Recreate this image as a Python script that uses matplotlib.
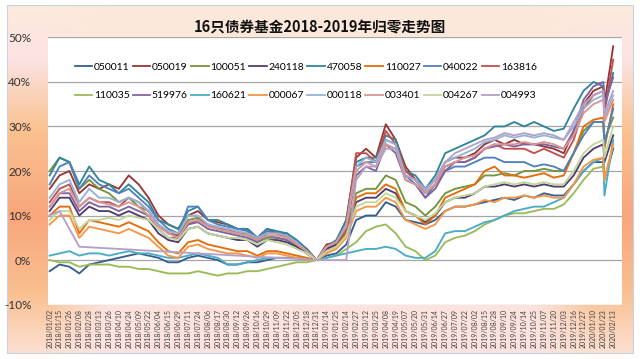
import numpy as np
import matplotlib
matplotlib.use('Agg')
import matplotlib.pyplot as plt
from matplotlib.colors import to_rgb
from matplotlib.lines import Line2D

plt.rcParams['font.family'] = ['Lato', 'DejaVu Sans']

title = "16只债券基金2018-2019年归零走势图"

tick_dates = [
    "2018/01/02", "2018/01/15", "2018/01/26", "2018/02/08", "2018/02/28", "2018/03/13",
    "2018/03/26", "2018/04/10", "2018/04/24", "2018/05/09", "2018/05/22", "2018/06/04",
    "2018/06/15", "2018/06/29", "2018/07/11", "2018/07/24", "2018/08/06", "2018/08/17",
    "2018/08/30", "2018/09/12", "2018/09/26", "2018/10/16", "2018/10/29", "2018/11/09",
    "2018/11/22", "2018/12/05", "2018/12/18", "2018/12/31", "2019/01/14", "2019/01/25",
    "2019/02/14", "2019/02/27", "2019/03/12", "2019/03/25", "2019/04/08", "2019/04/19",
    "2019/05/07", "2019/05/20", "2019/05/31", "2019/06/14", "2019/06/27", "2019/07/09",
    "2019/07/22", "2019/08/02", "2019/08/15", "2019/08/28", "2019/09/10", "2019/09/24",
    "2019/10/14", "2019/10/25", "2019/11/07", "2019/11/20", "2019/12/03", "2019/12/16",
    "2019/12/27", "2020/01/10", "2020/01/23", "2020/02/13",
]
# sampled dates: every tick date plus the first trading day after Spring Festival
sample_dates = tick_dates[:57] + ["2020/02/03", "2020/02/13"]
days_per_tick = 9

y_ticks = [-10, 0, 10, 20, 30, 40, 50]

codes = ["050011", "050019", "100051", "240118", "470058", "110027", "040022", "163816",
         "110035", "519976", "160621", "000067", "000118", "003401", "004267", "004993"]

s050011 = [-2.5, -1, -1.5, -3, -1, -0.5, 0, 0.5, 1, 1.5, 1, 0.5, -0.5, -0.5, 0.5, 1, 0.5, 0, -1, -1,
           -0.5, -0.5, 0, 0.5, 0.5, 0.5, 0, 0,
           1, 1.5, 3.5, 9, 10, 10, 13, 12, 9, 8.5, 8, 9, 11, 12, 12, 12.5, 13, 13.5, 14, 13.5, 14.5, 14,
           15, 14.5, 14.5, 17, 20, 22, 22,
           18, 25]
s050019 = [16, 19, 20, 15, 17, 16, 17, 16, 19, 17, 14, 10, 8, 7, 10, 11, 9, 8.5, 8, 7, 7, 5, 7, 6, 6, 4, 2.5, 0,
           3.5, 4, 9, 23, 25, 23, 30.5, 27, 21, 18, 16, 18, 22, 23, 23, 24, 26, 27, 26, 27, 26, 26,
           25.5, 25, 24, 29, 35, 38, 39,
           35, 48]
s100051 = [20, 23, 22, 16, 18, 16, 15, 13, 14, 12, 11, 8, 6, 5.5, 9, 9.5, 8, 7, 6.5, 6, 5.5, 4, 5, 5, 4.5, 3, 1.5, 0,
           2.5, 3.5, 6.5, 15, 16, 16, 19, 18, 13, 12, 10, 12, 15, 16, 16.5, 17, 19, 19, 19.5, 19, 20, 20,
           20.5, 20, 20, 24, 29, 31, 31,
           27, 32]
s240118 = [11, 14, 14, 10, 12, 11, 11, 10, 11, 10, 9, 6, 4.5, 4, 7, 7.5, 6, 5.5, 5, 4.5, 4.5, 3, 4.5, 4.5, 4, 3, 1.5, 0,
           2.5, 3.5, 6, 13, 14, 14, 16, 15, 11, 10, 8.5, 10, 13, 14, 14, 15, 16.5, 16.5, 17, 16.5, 17, 16.5,
           17, 16.5, 16.5, 19, 23, 25, 26,
           22, 28]
s470058 = [19, 23, 22, 17, 21, 18, 17, 15, 17, 15, 13, 9, 8, 7, 11, 12, 9, 9, 8, 7, 7, 5, 7, 6.5, 6, 4.5, 2.5, 0,
           3, 4.5, 9, 22, 23, 23, 28, 27, 20, 19, 16, 19, 24, 25, 26, 27, 28, 30, 30, 31, 30, 31,
           30, 29, 29.5, 34, 38, 40, 39,
           34, 42]
s110027 = [10, 12, 12, 6, 9, 8.5, 8, 7.5, 8.5, 7.5, 6.5, 4, 2, 1.5, 4, 4.5, 3.5, 3, 2.5, 2, 2, 1, 2, 2, 1.5, 1, 0.5, 0,
           2, 3, 6, 14, 15, 15, 17, 16, 11, 10, 8, 10, 14, 15, 16, 17, 20, 21, 19, 19, 18.5, 19,
           19.5, 18.5, 19, 24, 30, 31.5, 32,
           25, 35]
s040022 = [17, 21, 22, 16, 19, 17, 16, 15, 16, 14, 12, 9, 7, 6, 12, 12, 9, 8, 7.5, 7, 6.5, 5, 6.5, 6, 5.5, 4, 2, 0,
           3, 4, 8, 21, 22, 22, 27, 26, 19, 17, 14, 17, 20, 21, 21, 22, 23, 23, 22, 22, 22, 21,
           21.5, 21, 20, 24, 28, 31, 31,
           26, 34]
s163816 = [13, 16, 17, 12, 14, 13, 13, 12, 14, 13, 11, 8, 6, 5.5, 8, 9, 8, 7, 7, 6, 6, 4.5, 6, 6, 5, 4, 2, 0,
           3, 4, 8, 24, 24, 22, 29, 26, 20, 18, 15, 17, 21, 22, 22, 23, 25, 26, 25, 25, 25, 24,
           25, 24, 23, 27, 34, 37, 38,
           33, 45]
s110035 = [0, -0.5, -0.5, -1.5, -1, -1, -1, -1.5, -1.5, -2, -2, -2.5, -3, -3, -3, -2.5, -3, -3.5, -3, -3,
           -2.5, -2.5, -2, -1.5, -1, -0.5, -0.5, 0,
           0.5, 1, 2.5, 4, 6.5, 7.5, 8, 6, 3, 2, 0, 1, 4, 5, 5.5, 6.5, 8, 9, 10, 10.5, 10.5, 11,
           11.5, 11.5, 12.5, 15, 18, 20.5, 21,
           18, 26]
s519976 = [12, 15, 15, 11, 13, 12, 12, 11, 12, 11, 10, 7, 5, 5, 8, 8.5, 7, 6.5, 6, 5.5, 5, 4, 5.5, 5, 4.5, 3.5, 2, 0,
           3, 4, 7, 19, 21, 20, 26, 24, 18, 17, 14, 16, 20, 22, 22, 23, 25, 25.5, 26, 25.5, 26, 26,
           26, 25.5, 25, 29, 36, 39, 40,
           35, 41]
s160621 = [1, 1.5, 2, 1, 1.5, 1.5, 1, 1.5, 2, 1.5, 1.5, 1, 0.5, 0.5, 1, 1.5, 1, 0.5, -1, -1,
           -0.5, 0, 0.5, 0.5, 0.5, 0.5, 0, 0,
           0.5, 1, 1.5, 2, 2.5, 2.5, 3, 2.5, 1, 0.5, 0.5, 2, 6, 6.5, 6.5, 7.5, 8.5, 9, 10, 11, 11.5, 12,
           12, 13, 14, 17, 20, 22, 23,
           14.5, 27]
s000067 = [8, 10, 10, 5, 7.5, 7, 6.5, 6, 7, 6, 5, 3, 1, 0.5, 3, 3.5, 2.5, 2, 1.5, 1.5, 1, 0.5, 1.5, 1.5, 1, 0.5, 0, 0,
           1.5, 2.5, 5, 11, 12, 12, 14, 13, 9, 8, 7, 8, 11, 12, 12, 12.5, 13.5, 13, 14, 14, 14.5, 14,
           14.5, 14, 14, 17, 21, 22.5, 23,
           18, 26]
s000118 = [14, 17, 18, 13, 16, 14, 14, 13, 14, 13, 11, 8, 6.5, 6, 10, 10, 8, 7.5, 7, 6.5, 6, 5, 6, 6, 5.5, 4, 2, 0,
           3, 4, 8, 21, 23, 22, 27, 26, 19, 18, 15.5, 18, 22, 23, 24, 25, 26.5, 27, 28, 27.5, 28, 27.5,
           28, 27.5, 27, 30, 34, 36, 37,
           32, 37]
s003401 = [12, 15, 16, 12, 14, 13, 12.5, 12, 13, 12, 10, 7.5, 6, 5, 8.5, 9, 7.5, 7, 6.5, 6, 5.5, 4.5, 5.5, 5.5, 5, 3.5, 2, 0,
           3, 4, 7.5, 20, 22, 21, 26, 25, 18, 17, 15, 17, 21, 22, 23, 23.5, 25, 26, 26, 26, 26.5, 26,
           26.5, 26, 25, 28, 33, 35, 36,
           31, 36]
s004267 = [9, 11, 11, 7, 9, 9, 9.5, 9, 10, 9.5, 9, 7, 5, 4.5, 7, 7.5, 6, 5.5, 5, 5, 4.5, 3.5, 4.5, 4, 3.5, 2.5, 1.5, 0,
           2, 3, 5.5, 12, 13, 13, 15, 14, 11, 10, 9, 10.5, 13, 14, 14.5, 15, 16.5, 17, 17.5, 17, 17.5, 17,
           17.5, 17, 17, 20, 24, 26, 27,
           23, 30]
s004993 = [10, 11, 7, 3, None, None, None, None, None, None, None, None, None, None, None, None,
           None, None, None, None, None, None, None, None, None, None, None, 0,
           None, None, 0, 18, 21, 21, 25, 25, 19, 18, 16, 18, 22, 24, 25, 26, 27, 27.5, 28.5, 28, 28.5, 28,
           28.5, 28, 27, 31, 35, 37, 38,
           33, 38]

colors = ["#365F91", "#953735", "#77933C", "#4F3F6F", "#31859C", "#E46C0A", "#4F81BD", "#C0504D",
          "#9BBB59", "#8064A2", "#4BACC6", "#F79646", "#95B3D7", "#D99694", "#C3D69B", "#B3A2C7"]

series = [s050011, s050019, s100051, s240118, s470058, s110027, s040022, s163816,
          s110035, s519976, s160621, s000067, s000118, s003401, s004267, s004993]

# ---- x positions in trading days ----
def position(d):
    if d in tick_dates:
        return tick_dates.index(d) * days_per_tick
    prev = max(t for t in tick_dates if t < d)
    return tick_dates.index(prev) * days_per_tick + 1

xpos = np.array([position(d) for d in sample_dates], dtype=float)

W, H = 640, 359
fig = plt.figure(figsize=(W / 100, H / 100), dpi=100)

# ---- background gradient panel ----
def hexes(lst):
    return np.array([to_rgb(c) for c in lst])

edge_y = [5, 60, 130, 215, 290, 353]
edge_c = hexes(["#FDEBDD", "#FCE3E2", "#FAC291", "#F8A67C", "#FABF8F", "#FCE0D2"])
cent_y = [5, 180, 353]
cent_c = hexes(["#FDE9DA", "#FCE6DC", "#FCE3E0"])
ys = np.arange(H) + 0.5
xs = np.arange(W) + 0.5
edge = np.stack([np.interp(ys, edge_y, edge_c[:, k]) for k in range(3)], axis=1)
cent = np.stack([np.interp(ys, cent_y, cent_c[:, k]) for k in range(3)], axis=1)
d = np.minimum(xs - 7, 633 - xs)
w = np.clip((d - 40) / 60.0, 0, 1)
img = edge[:, None, :] * (1 - w[None, :, None]) + cent[:, None, :] * w[None, :, None]
inside = ((xs >= 7) & (xs <= 633))[None, :] & ((ys >= 5) & (ys <= 353))[:, None]
img[~inside] = 1.0
bg = fig.add_axes([0, 0, 1, 1], zorder=-10)
bg.imshow(img, extent=[0, W, H, 0], aspect='auto', interpolation='bilinear')
bg.plot([7, 633, 633, 7, 7], [5, 5, 353, 353, 5], color="#C5D3E3", lw=0.8)
bg.set_xlim(0, W)
bg.set_ylim(H, 0)
bg.set_axis_off()

# ---- plot area ----
top_px, bot_px, left_px, right_px = 37.4, 304.6, 48, 622
ax = fig.add_axes([left_px / W, 1 - bot_px / H, (right_px - left_px) / W, (bot_px - top_px) / H])
ax.set_facecolor("white")
for s in ax.spines.values():
    s.set_visible(False)
for v in y_ticks:
    ax.axhline(v, color="#A6A6A6", lw=0.9, zorder=1)

handles = []
for code, vals, col in zip(codes, series, colors):
    v = np.array([np.nan if a is None else a for a in vals], dtype=float)
    m = ~np.isnan(v)
    ax.plot(xpos[m], v[m], color=col, lw=1.35, zorder=2, solid_joinstyle='round')
    handles.append(Line2D([], [], color=col, lw=1.3))

ax.set_ylim(-10, 50)
ax.set_xlim(-1.5, 521)
ax.set_yticks(y_ticks)
ax.set_yticklabels([f"{v}%" for v in y_ticks])
ax.tick_params(axis='y', length=0, pad=12, labelsize=8.5, labelcolor="#333333")
ax.set_xticks([k * days_per_tick for k in range(len(tick_dates))])
ax.set_xticklabels(tick_dates, rotation=90, fontsize=5, color="#404040")
ax.tick_params(axis='x', length=0, pad=3)

# legend in row-major order (matplotlib fills columns first)
order = []
for k in range(8):
    order += [k, k + 8]
ax.legend([handles[k] for k in order], [codes[k] for k in order], ncol=8, loc='center',
          bbox_to_anchor=(0.449, 0.835), frameon=False, fontsize=7.5, handlelength=1.7,
          handletextpad=0.15, columnspacing=0.3, labelspacing=1.85)

fig.text(0.5, 1 - 27 / H, title, ha='center', va='center', fontsize=10.5, fontweight='bold',
         family=['Noto Sans CJK SC', 'DejaVu Sans'], color="#111111")

fig.savefig("out.png", dpi=100)
